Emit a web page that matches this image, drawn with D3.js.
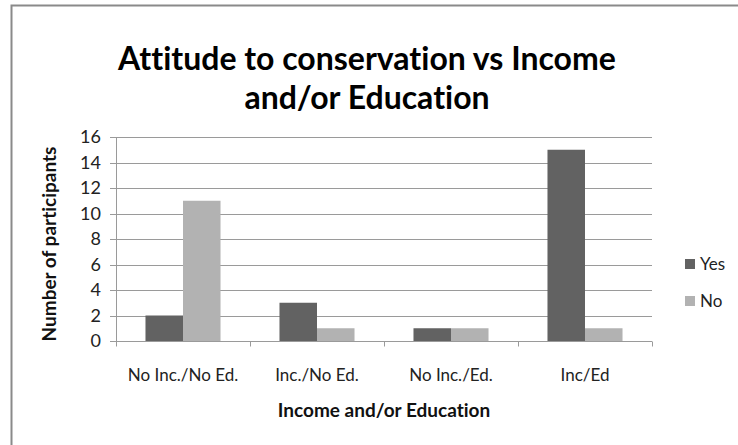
<!DOCTYPE html>
<html>
<head>
<meta charset="utf-8">
<script src="https://cdn.jsdelivr.net/npm/d3@7"></script>
<style>
  body { margin: 0; background: #fff; }
  svg { display: block; font-family: Lato, "Open Sans", sans-serif; font-variant-ligatures: none; }
</style>
</head>
<body>
<svg id="chart"></svg>
<script>
const categories = ['No Inc./No Ed.', 'Inc./No Ed.', 'No Inc./Ed.', 'Inc/Ed'];
const seriesNames = ['Yes', 'No'];
const yesValues = [2, 3, 1, 15];
const noValues = [11, 1, 1, 1];
const yTicks = [0, 2, 4, 6, 8, 10, 12, 14, 16];
const colors = ['#626262', '#b2b2b2'];

const W = 738;
const H = 445;
const margin = { top: 137, right: 86, bottom: 104, left: 116 };
const width = W - margin.left - margin.right;
const height = H - margin.top - margin.bottom;

const svgEl = d3.select('#chart').attr('width', W).attr('height', H);

// outer chart frame (only top and left visible in the crop)
svgEl.append('path')
  .attr('d', `M11.5,${H} V5.5 H${W}`)
  .attr('fill', 'none')
  .attr('stroke', '#8a8a8a')
  .attr('stroke-width', 2);

const svg = svgEl.append('g')
  .attr('transform', `translate(${margin.left},${margin.top})`);

const x = d3.scaleBand()
  .domain(categories)
  .range([0, width])
  .paddingInner(0.44)
  .paddingOuter(0.22);

const x1 = d3.scaleBand()
  .domain(seriesNames)
  .range([0, x.bandwidth()]);

const y = d3.scaleLinear()
  .domain([0, 16])
  .range([height, 0]);

// gridlines
svg.append('g')
  .selectAll('line')
  .data(yTicks)
  .join('line')
  .attr('x1', -6)
  .attr('x2', width)
  .attr('y1', (d) => Math.round(y(d)) + 0.5)
  .attr('y2', (d) => Math.round(y(d)) + 0.5)
  .attr('stroke', '#9a9a9a')
  .attr('stroke-width', 1);

// y tick labels
svg.append('g')
  .selectAll('text')
  .data(yTicks)
  .join('text')
  .attr('x', -15)
  .attr('y', (d) => y(d))
  .attr('dy', '0.35em')
  .attr('text-anchor', 'end')
  .attr('font-size', 18)
  .attr('fill', '#222')
  .text((d) => d);

// bars
const rows = categories.map((c, i) => ({ cat: c, values: [yesValues[i], noValues[i]] }));
svg.append('g')
  .selectAll('g')
  .data(rows)
  .join('g')
  .attr('transform', (d) => `translate(${x(d.cat)},0)`)
  .selectAll('rect')
  .data((d) => d.values.map((v, j) => ({ key: seriesNames[j], value: v, j })))
  .join('rect')
  .attr('x', (d) => x1(d.key))
  .attr('y', (d) => y(d.value))
  .attr('width', x1.bandwidth())
  .attr('height', (d) => height - y(d.value))
  .attr('fill', (d) => colors[d.j]);

// y axis line
svg.append('line')
  .attr('x1', 0.5).attr('x2', 0.5)
  .attr('y1', 0).attr('y2', height)
  .attr('stroke', '#9a9a9a');

// x axis
const xAxis = svg.append('g')
  .attr('transform', `translate(0,${Math.round(height) + 0.5})`);
xAxis.append('line')
  .attr('x1', 0).attr('x2', width)
  .attr('stroke', '#9a9a9a');
const step = x.step();
xAxis.selectAll('line.tick')
  .data(d3.range(categories.length + 1))
  .join('line')
  .attr('class', 'tick')
  .attr('x1', (i) => Math.round(i * step) + 0.5)
  .attr('x2', (i) => Math.round(i * step) + 0.5)
  .attr('y1', 0).attr('y2', 5)
  .attr('stroke', '#9a9a9a');
xAxis.selectAll('text')
  .data(categories)
  .join('text')
  .attr('x', (d) => x(d) + x.bandwidth() / 2)
  .attr('y', 39)
  .attr('text-anchor', 'middle')
  .attr('font-size', 17)
  .attr('fill', '#222')
  .text((d) => d);

// axis titles
svgEl.append('text')
  .attr('x', margin.left + width / 2)
  .attr('y', 417)
  .attr('text-anchor', 'middle')
  .attr('font-size', 19)
  .attr('font-weight', 'bold')
  .attr('fill', '#111')
  .text('Income and/or Education');

svgEl.append('text')
  .attr('transform', `translate(56,${margin.top + height / 2 + 5}) rotate(-90)`)
  .attr('text-anchor', 'middle')
  .attr('font-size', 19)
  .attr('font-weight', 'bold')
  .attr('fill', '#111')
  .text('Number of participants');

// title
const titleLines = ['Attitude to conservation vs Income', 'and/or Education'];
svgEl.append('text')
  .attr('text-anchor', 'middle')
  .attr('font-size', 32)
  .attr('font-weight', 'bold')
  .attr('fill', '#000')
  .selectAll('tspan')
  .data(titleLines)
  .join('tspan')
  .attr('x', 367)
  .attr('y', (d, i) => 70 + i * 39)
  .text((d) => d);

// legend
const legend = svgEl.append('g')
  .attr('transform', 'translate(685,259)');
const item = legend.selectAll('g')
  .data(seriesNames)
  .join('g')
  .attr('transform', (d, i) => `translate(0,${i * 37})`);
item.append('rect')
  .attr('width', 10).attr('height', 10)
  .attr('fill', (d, i) => colors[i]);
item.append('text')
  .attr('x', 15)
  .attr('y', 5)
  .attr('dy', '0.35em')
  .attr('font-size', 17)
  .attr('fill', '#222')
  .text((d) => d);
</script>
</body>
</html>
